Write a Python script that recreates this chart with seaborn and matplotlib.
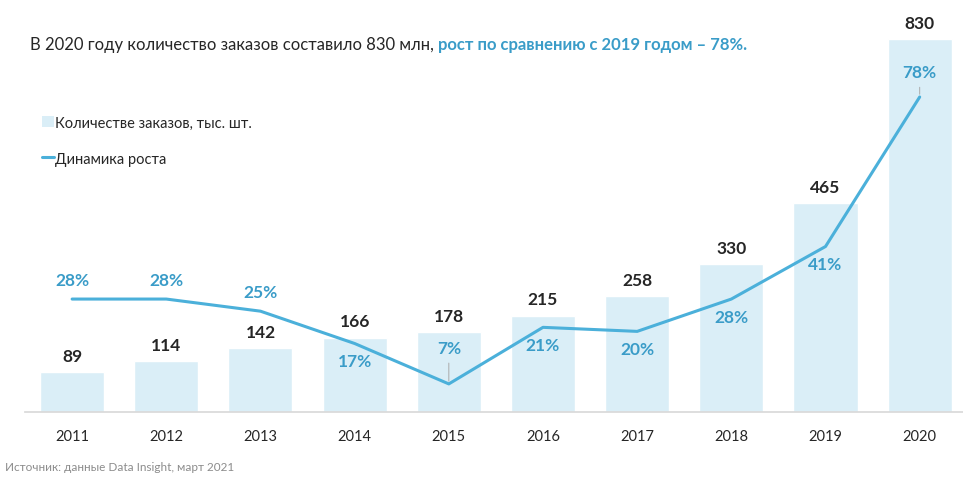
import matplotlib
matplotlib.use("Agg")
import matplotlib.pyplot as plt
import seaborn as sns
import pandas as pd
from matplotlib.patches import Patch
from matplotlib.lines import Line2D

years = ["2011", "2012", "2013", "2014", "2015", "2016", "2017", "2018", "2019", "2020"]
orders = [89, 114, 142, 166, 178, 215, 258, 330, 465, 830]
growth = [28, 28, 25, 17, 7, 21, 20, 28, 41, 78]
# where the growth label sits relative to the line: 1 above, -1 below
label_side = [1, 1, 1, -1, 1, -1, -1, -1, -1, 1]

bar_color = "#DAEEF7"
line_color = "#4BB0DA"
pct_color = "#3A9CC8"
dark = "#262626"

sns.set_theme(style="white")
plt.rcParams["font.family"] = ["Lato", "DejaVu Sans"]

df = pd.DataFrame({"year": years, "orders": orders, "growth": growth})
df["x"] = range(len(df))

fig = plt.figure(figsize=(9.63, 4.89), dpi=100)
ax = fig.add_axes([0.026, 0.155, 0.974, 0.763])

sns.barplot(data=df, x="year", y="orders", color=bar_color, width=0.68,
            saturation=1, ax=ax)
ax.set_ylim(0, 830)
ax.set_xlim(-0.5, 9.46)
for i, v in enumerate(orders):
    ax.annotate(str(v), (i, v), xytext=(0, 6), textcoords="offset points",
                ha="center", va="bottom", fontsize=12.5, fontweight="bold", color=dark)

# percent axis scaled so 0% sits on the bar baseline
ax2 = ax.twinx()
sns.lineplot(data=df, x="x", y="growth", color=line_color, linewidth=2.2, ax=ax2)
ax2.set_ylim(0, 373 / 4.04)
ax2.set_xlim(-0.5, 9.46)

for i, g in enumerate(growth):
    side = label_side[i]
    off = 8 if side > 0 else -7
    if i == 4:
        off = 20
        ax2.annotate("", (i, g), xytext=(0, 17), textcoords="offset points",
                     arrowprops=dict(arrowstyle="-", color="#AAAAAA", lw=0.7))
    if i == 9:
        off = 12
        ax2.annotate("", (i, g), xytext=(0, 9), textcoords="offset points",
                     arrowprops=dict(arrowstyle="-", color="#AAAAAA", lw=0.7))
    ax2.annotate(f"{g}%", (i, g), xytext=(0, off), textcoords="offset points",
                 ha="center", va="bottom" if side > 0 else "top",
                 fontsize=12.5, fontweight="bold", color=pct_color)

for a in (ax, ax2):
    a.set_xlabel("")
    a.set_ylabel("")
    a.set_yticks([])
    for s in ("top", "left", "right"):
        a.spines[s].set_visible(False)
ax2.spines["bottom"].set_visible(False)
ax.spines["bottom"].set_color("#D9D9D9")
ax.tick_params(axis="x", length=0, labelsize=10.5, colors=dark, pad=12)

handles = [Patch(facecolor=bar_color, edgecolor="none"),
           Line2D([0], [0], color=line_color, lw=2.2)]
fig.legend(handles, ["Количестве заказов, тыс. шт.", "Динамика роста"],
           loc="upper left", bbox_to_anchor=(0.03, 0.788), frameon=False,
           fontsize=10.5, handlelength=0.8, handleheight=0.8, handletextpad=0.1,
           labelspacing=1.5, labelcolor=dark)

t1 = fig.text(30 / 963, 1 - 45 / 489, "В 2020 году количество заказов составило 830 млн, ",
              fontsize=12, color=dark, va="center", ha="left")
fig.canvas.draw()
bb = t1.get_window_extent()
fig.text(bb.x1 / 963, 1 - 45 / 489, "рост по сравнению с 2019 годом – 78%.",
         fontsize=12, color=pct_color, fontweight="bold", va="center", ha="left")

fig.text(5 / 963, 1 - 468 / 489, "Источник: данные Data Insight, март 2021",
         fontsize=8.5, color="#8C8C8C", va="center", ha="left")

fig.savefig("out.png", dpi=100)
